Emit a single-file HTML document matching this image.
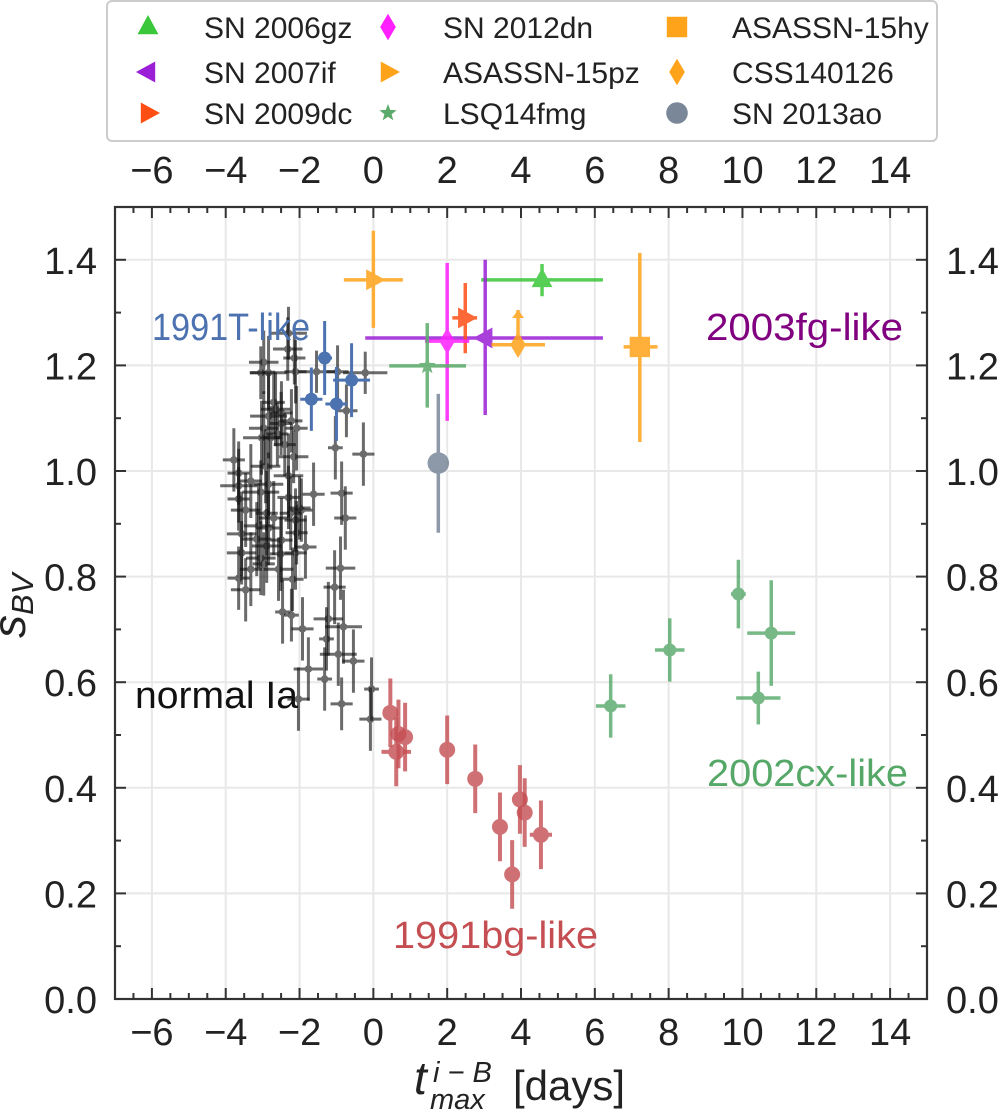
<!DOCTYPE html>
<html><head><meta charset="utf-8"><style>
body{margin:0;background:#fff;}
svg text{font-family:"Liberation Sans",sans-serif;}
</style></head><body>
<svg id="chart" xmlns="http://www.w3.org/2000/svg" width="1000" height="1114" viewBox="0 0 1000 1114">
<g id="grid"></g>
<g id="marks"></g>
<g id="axes"></g>
<g id="legend"></g>
</svg>
<script>
const xTicks=[-6,-4,-2,0,2,4,6,8,10,12,14];
const yTicks=[0.0,0.2,0.4,0.6,0.8,1.0,1.2,1.4];
const yTickLabels=["0.0","0.2","0.4","0.6","0.8","1.0","1.2","1.4"];
const normX=[-2.30,-2.32,-2.14,-2.97,-3.05,-2.84,-2.11,-1.54,-0.97,-0.22,-0.73,-2.65,-2.49,-2.84,-2.22,-2.97,-2.08,-3.03,-2.78,-1.03,-0.27,-2.16,-3.78,-2.92,-3.65,-2.30,-3.32,-2.84,-3.65,-1.62,-0.86,-3.05,-3.65,-3.46,-2.89,-2.24,-1.95,-2.70,-2.11,-3.11,-2.84,-3.57,-2.08,-0.76,-3.16,-2.49,-2.89,-1.84,-3.57,-2.51,-2.11,-3.05,-2.97,-2.57,-3.32,-0.89,-3.65,-2.19,-3.46,-1.05,-2.46,-2.22,-1.92,-1.22,-0.81,-1.27,-0.95,-0.54,-1.76,-1.32,-2.03,-0.86,-0.05,-0.08,-2.6,-2.4,-2.7,-2.5,-2.3,-2.0];
const normY=[1.261,1.231,1.214,1.206,1.186,1.186,1.188,1.188,1.188,1.186,1.114,1.117,1.110,1.104,1.095,1.081,1.081,1.063,1.063,1.044,1.032,1.027,1.021,1.009,0.996,0.991,0.981,0.975,0.972,0.956,0.958,0.960,0.947,0.926,0.920,0.920,0.926,0.911,0.907,0.896,0.892,0.881,0.883,0.911,0.871,0.869,0.858,0.856,0.845,0.843,0.845,0.835,0.824,0.814,0.814,0.816,0.797,0.795,0.775,0.780,0.733,0.727,0.701,0.720,0.705,0.682,0.653,0.640,0.625,0.606,0.568,0.559,0.587,0.530,1.07,1.05,1.13,1.09,0.95,0.93];
const normXErr=[0.5,0.4,0.3,0.4,0.3,0.5,0.3,0.5,0.3,0.6,0.3,0.4,0.3,0.5,0.3,0.4,0.3,0.5,0.3,0.2,0.3,0.4,0.3,0.4,0.3,0.4,0.3,0.4,0.5,0.3,0.3,0.5,0.3,0.4,0.3,0.3,0.3,0.4,0.3,0.4,0.3,0.4,0.3,0.3,0.4,0.3,0.4,0.3,0.4,0.3,0.3,0.4,0.3,0.4,0.3,0.4,0.3,0.3,0.4,0.3,0.2,0.2,0.3,0.4,0.5,0.2,0.5,0.3,0.4,0.2,0.3,0.3,0.2,0.3,0.3,0.3,0.3,0.3,0.3,0.3];
const normYErr=[0.05,0.06,0.05,0.06,0.05,0.07,0.06,0.04,0.05,0.04,0.05,0.07,0.06,0.08,0.06,0.07,0.08,0.07,0.06,0.06,0.06,0.05,0.06,0.07,0.06,0.08,0.07,0.06,0.07,0.06,0.06,0.06,0.06,0.07,0.08,0.07,0.06,0.07,0.06,0.08,0.07,0.08,0.06,0.06,0.07,0.08,0.07,0.06,0.06,0.07,0.07,0.07,0.06,0.06,0.07,0.06,0.06,0.06,0.06,0.07,0.06,0.05,0.06,0.07,0.07,0.06,0.06,0.06,0.06,0.06,0.06,0.05,0.06,0.06,0.06,0.06,0.06,0.06,0.06,0.06];
const tX=[-1.32,-0.59,-1.68,-1.0];
const tY=[1.214,1.172,1.136,1.127];
const tXErr=[0.2,0.5,0.3,0.3];
const tYErr=[0.07,0.07,0.06,0.07];
const bgX=[0.46,0.68,0.86,0.62,2.0,2.76,3.43,3.76,3.97,4.1,4.54];
const bgY=[0.542,0.502,0.496,0.468,0.472,0.417,0.326,0.236,0.378,0.353,0.311];
const bgXErr=[0.2,0.1,0.1,0.4,0.1,0.1,0.1,0.1,0.2,0.1,0.3];
const bgYErr=[0.065,0.065,0.065,0.065,0.065,0.065,0.065,0.065,0.065,0.065,0.065];
const cxX=[6.43,8.03,9.89,10.78,10.43];
const cxY=[0.555,0.661,0.767,0.693,0.570];
const cxXErr=[0.4,0.4,0.2,0.65,0.6];
const cxYErr=[0.06,0.06,0.065,0.1,0.05];
const spNames=["SN 2006gz","SN 2007if","SN 2009dc","SN 2012dn","ASASSN-15pz","LSQ14fmg","ASASSN-15hy","CSS140126","SN 2013ao"];
const spX=[4.57,3.03,2.49,2.0,0.0,1.46,7.22,3.92,1.76];
const spY=[1.362,1.252,1.29,1.246,1.362,1.199,1.235,1.239,1.015];
const spXLo=[1.65,3.25,0.35,0.6,0.8,1.03,0.44,0.72,0];
const spXHi=[1.65,3.19,0.32,0.6,0.8,1.05,0.48,0.73,0];
const spYLo=[0.031,0.146,0.067,0.151,0.091,0.079,0.18,0,0.132];
const spYHi=[0.03,0.148,0.066,0.148,0.093,0.081,0.178,0.066,0.131];
const spColors=["#3ac73a","#9b1fd6","#ff4e14","#ff1fff","#ffa31a","#5aaa6a","#ffa31a","#ffa31a","#7a8799"];
const spMarkers=["tri-up","tri-left","tri-right","diamond","tri-right","star","square","diamond","circle"];

const X0=115,X1=927,Y0=999,Y1=207,xmin=-7,xmax=15,ymin=0,ymax=1.5;
const xs=v=>X0+(v-xmin)/(xmax-xmin)*(X1-X0);
const ys=v=>Y0-(v-ymin)/(ymax-ymin)*(Y0-Y1);
const NS="http://www.w3.org/2000/svg";
function mk(tag,attrs,parent){const e=document.createElementNS(NS,tag);for(const k in attrs)e.setAttribute(k,attrs[k]);parent.appendChild(e);return e;}
const grid=document.getElementById('grid'),marks=document.getElementById('marks'),axes=document.getElementById('axes'),legend=document.getElementById('legend');

xTicks.forEach(t=>{const l=mk('line',{x1:xs(t),x2:xs(t),y1:Y1,y2:Y0,stroke:'#e8e8e8','stroke-width':2},grid);

});
yTicks.forEach(t=>{const l=mk('line',{x1:X0,x2:X1,y1:ys(t),y2:ys(t),stroke:'#e8e8e8','stroke-width':2},grid);

});

function errbar(g,x,y,xlo,xhi,ylo,yhi,color,w){
  if(xlo+xhi>0)mk('line',{x1:xs(x-xlo),x2:xs(x+xhi),y1:ys(y),y2:ys(y),stroke:color,'stroke-width':w},g);
  if(ylo+yhi>0)mk('line',{x1:xs(x),x2:xs(x),y1:ys(y-ylo),y2:ys(y+yhi),stroke:color,'stroke-width':w},g);
}
function group(X,Y,XE,YE,color,r,op,w,name){
  for(let i=0;i<X.length;i++){
    const g=mk('g',{opacity:op},marks);
    
    
    errbar(g,X[i],Y[i],XE[i],XE[i],YE[i],YE[i],color,w);
    mk('circle',{cx:xs(X[i]),cy:ys(Y[i]),r:r,fill:color},g);
  }
}
group(normX,normY,normXErr,normYErr,'#111',3.8,0.62,3,'normal-ia-point');
group(tX,tY,tXErr,tYErr,'#4c72b0',6.5,1,3,'1991t-like-point');
group(bgX,bgY,bgXErr,bgYErr,'#c44e52',8,0.8,4,'1991bg-like-point');
group(cxX,cxY,cxXErr,cxYErr,'#55a868',6.5,0.8,3.5,'2002cx-like-point');

function marker(g,type,cx,cy,s,color){
  let p;
  if(type==='tri-up')p=`M${cx},${cy-s} L${cx+s*0.87},${cy+s*0.6} L${cx-s*0.87},${cy+s*0.6}Z`;
  else if(type==='tri-left')p=`M${cx-s},${cy} L${cx+s*0.6},${cy-s*0.87} L${cx+s*0.6},${cy+s*0.87}Z`;
  else if(type==='tri-right')p=`M${cx+s},${cy} L${cx-s*0.6},${cy-s*0.87} L${cx-s*0.6},${cy+s*0.87}Z`;
  else if(type==='diamond')p=`M${cx},${cy-s*1.1} L${cx+s*0.65},${cy} L${cx},${cy+s*1.1} L${cx-s*0.65},${cy}Z`;
  else if(type==='square')p=`M${cx-s*0.85},${cy-s*0.85}h${s*1.7}v${s*1.7}h${-s*1.7}Z`;
  else if(type==='star'){let d='';for(let k=0;k<10;k++){const a=-Math.PI/2+k*Math.PI/5,rr=k%2?s*0.42:s;d+=(k?'L':'M')+(cx+rr*Math.cos(a)).toFixed(1)+','+(cy+rr*Math.sin(a)).toFixed(1);}p=d+'Z';}
  if(type==='circle')return mk('circle',{cx:cx,cy:cy,r:s*0.9,fill:color},g);
  return mk('path',{d:p,fill:color},g);
}
for(let i=0;i<spX.length;i++){
  const g=mk('g',{opacity:0.85},marks);
  
  
  errbar(g,spX[i],spY[i],spXLo[i],spXHi[i],spYLo[i],spYHi[i],spColors[i],3.5);
  if(spYLo[i]===0&&spYHi[i]>0){const tx=xs(spX[i]),ty=ys(spY[i]+spYHi[i]);mk('path',{d:`M${tx-6},${ty+8} L${tx},${ty} L${tx+6},${ty+8}Z`,fill:spColors[i]},g);}
  marker(g,spMarkers[i],xs(spX[i]),ys(spY[i]),spMarkers[i]==='star'?9:12,spColors[i]);
}

mk('rect',{x:X0,y:Y1,width:X1-X0,height:Y0-Y1,fill:'none',stroke:'#333','stroke-width':2.2},axes);
for(let v=-7;v<=15.001;v+=0.5){const major=Math.abs(v%2)<1e-6&&v>=-6;const L=major?11:6;const x=xs(v);
  mk('line',{x1:x,x2:x,y1:Y0,y2:Y0-L,stroke:'#333','stroke-width':2},axes);
  mk('line',{x1:x,x2:x,y1:Y1,y2:Y1+L,stroke:'#333','stroke-width':2},axes);}
for(let v=0;v<=1.5001;v+=0.1){const major=Math.round(v*10)%2===0;const L=major?11:6;const y=ys(v);
  mk('line',{x1:X0,x2:X0+L,y1:y,y2:y,stroke:'#333','stroke-width':2},axes);
  mk('line',{x1:X1,x2:X1-L,y1:y,y2:y,stroke:'#333','stroke-width':2},axes);}
xTicks.forEach(t=>{const lab=(t<0?'\u2212':'')+Math.abs(t);
  let e=mk('text',{x:xs(t),y:1045,'text-anchor':'middle','font-size':38,fill:'#222'},axes);e.textContent=lab;
  
  
  e=mk('text',{x:xs(t),y:183,'text-anchor':'middle','font-size':38,fill:'#222'},axes);e.textContent=lab;
  
  });
yTicks.forEach((t,i)=>{
  let e=mk('text',{x:97,y:ys(t)+14,'text-anchor':'end','font-size':38,fill:'#222'},axes);e.textContent=yTickLabels[i];
  
  
  e=mk('text',{x:946,y:ys(t)+14,'text-anchor':'start','font-size':38,fill:'#222'},axes);e.textContent=yTickLabels[i];
  
  });

mk('rect',{x:107,y:1,width:830,height:140,rx:5,fill:'#fff',stroke:'#ccc','stroke-width':2},legend);
const legCols=[[148,204],[388,443],[677,732]];
const legRows=[27,72,113];
spNames.forEach((nm,k)=>{const c=Math.floor(k/3),r=k%3;
  const g=mk('g',{},legend);
  
  
  marker(g,spMarkers[k],legCols[c][0],legRows[r],spMarkers[k]==='star'?9:12,spColors[k]);
  const t=mk('text',{x:legCols[c][1],y:legRows[r]+11,'font-size':30,fill:'#222'},g);t.textContent=nm;});
</script>
<svg style="position:absolute;left:0;top:0" width="1000" height="1114">
<text x="152" y="340" font-size="38" textLength="158" lengthAdjust="spacingAndGlyphs" style="fill:#4c72b0">1991T-like</text>
<text x="706" y="340" font-size="38" textLength="197" lengthAdjust="spacingAndGlyphs" style="fill:#800080">2003fg-like</text>
<text x="135" y="708" font-size="38" textLength="163" lengthAdjust="spacingAndGlyphs" style="fill:#111">normal Ia</text>
<text x="707" y="786" font-size="38" textLength="201" lengthAdjust="spacingAndGlyphs" style="fill:#55a868">2002cx-like</text>
<text x="393" y="948" font-size="38" textLength="205" lengthAdjust="spacingAndGlyphs" style="fill:#c44e52">1991bg-like</text>
<text transform="translate(25,638) rotate(-90)" font-size="46" style="fill:#222"><tspan font-style="italic">s</tspan><tspan font-style="italic" font-size="31" dy="8">BV</tspan></text>
<g>
<text x="414" y="1094" font-size="46" font-style="italic" style="fill:#222">t</text>
<text x="433" y="1082" font-size="29" font-style="italic" style="fill:#222">i − B</text>
<text x="430" y="1109" font-size="29" font-style="italic" style="fill:#222">max</text>
<text x="513" y="1100" font-size="42" style="fill:#222">[days]</text>
</g>
</svg>
</body></html>
